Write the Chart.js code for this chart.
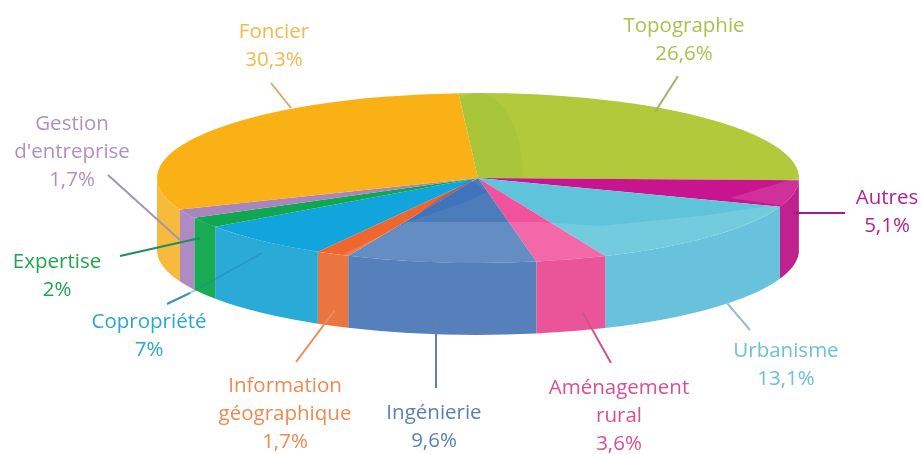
<!DOCTYPE html>
<html>
<head>
<meta charset="utf-8">
<style>
  html, body { margin: 0; padding: 0; background: #fff; }
  canvas { display: block; filter: blur(0.6px); }
</style>
<script src="https://cdn.jsdelivr.net/npm/chart.js@4"></script>
</head>
<body>
<canvas id="canvas" width="921" height="454"></canvas>
<script>
var categories = ['Topographie', 'Autres', 'Urbanisme', 'Aménagement rural', 'Ingénierie',
  'Information géographique', 'Copropriété', 'Expertise', "Gestion d'entreprise", 'Foncier'];
var values = [26.6, 5.1, 13.1, 3.6, 9.6, 1.7, 7, 2, 1.7, 30.3];

var topColors = ['#b2c93c', '#c9148f', '#5fc4da', '#f0529b', '#4d7cba', '#f0662e', '#12a4dc', '#0fa850', '#a985bf', '#f9b115'];
var wallColors = ['#a8bd38', '#c0218f', '#68c2db', '#ea5599', '#5580bb', '#eb7540', '#29aad7', '#1aac55', '#b08ac4', '#f6ba3c'];
var textColors = ['#a9c24f', '#b5218f', '#6cc0d9', '#d94e93', '#5b80b8', '#ee8a50', '#2aa5d5', '#1fa64f', '#b090c0', '#f0b94e'];

// text: name lines, centre x, y of the first line
var labelLines = [['Topographie'], ['Autres'], ['Urbanisme'], ['Aménagement', 'rural'], ['Ingénierie'],
  ['Information', 'géographique'], ['Copropriété'], ['Expertise'], ['Gestion', "d'entreprise"], ['Foncier']];
var labelX = [684, 887, 786, 619, 434, 285, 149, 57, 72, 274];
var labelY = [26, 198, 351, 388, 413, 386, 322, 262, 124, 32];

// leader lines x1, y1, x2, y2
var leaders = [[678, 76, 655, 112], [793, 213, 845, 213], [727, 303, 750, 330], [583, 313, 611, 363], [436, 320, 436, 388],
  [335, 310, 296, 362], [167, 304, 190, 293], [120, 256, 200, 238], [108, 175, 180, 240], [271, 83, 291, 108]];
var leaderColors = ['#a3b167', '#a81b80', '#9cbcc9', '#d1538a', '#6380ab', '#ec8a60', '#3f8fb8', '#1f8f5a', '#a594b5', '#d7ab6a'];

var pieX = 478, pieY = 178, pieRx = 321, pieRy = 85, pieDepth = 72;
var lineHeight = 28;

function clampAngle(a) {
  // puts the angle in -PI..PI, canvas angles with 0 on the right
  while (a > Math.PI) a -= 2 * Math.PI;
  while (a < -Math.PI) a += 2 * Math.PI;
  return a;
}

function polygon(ctx, pts) {
  ctx.beginPath();
  pts.forEach(function(p, i) {
    if (i == 0) ctx.moveTo(p[0], p[1]);
    else ctx.lineTo(p[0], p[1]);
  });
  ctx.closePath();
}

function drawSheen(ctx) {
  // reflections on the top face
  ctx.save();
  ctx.beginPath();
  ctx.ellipse(pieX, pieY, pieRx, pieRy, 0, 0, 2 * Math.PI);
  ctx.clip();
  // lighter band along the front rim
  polygon(ctx, [[344, 254], [407, 222], [540, 222], [600, 226], [700, 216], [777, 205], [777, 270], [344, 270]]);
  ctx.fillStyle = 'rgba(255,255,255,0.13)';
  ctx.fill();
  polygon(ctx, [[730, 198], [802, 176], [802, 205], [777, 205]]);
  ctx.fillStyle = 'rgba(255,255,255,0.12)';
  ctx.fill();
  // dark wedge near the middle
  polygon(ctx, [[407, 222], [463, 203], [487, 192], [470, 180], [440, 198]]);
  ctx.fillStyle = 'rgba(50,105,190,0.5)';
  ctx.fill();
  // darker lobe on the green slice, kept inside its edge with the orange one
  polygon(ctx, [[458, 90], [478, 178], [540, 178], [540, 90]]);
  ctx.clip();
  ctx.beginPath();
  ctx.ellipse(pieX, pieY, 45, 85, 0, 0, 2 * Math.PI);
  ctx.fillStyle = 'rgba(130,190,50,0.18)';
  ctx.fill();
  ctx.restore();
}

var pie3d = {
  id: 'pie3d',
  beforeDatasetsDraw: function(chart) {
    var ctx = chart.ctx;
    var arcs = chart.getDatasetMeta(0).data;
    ctx.save();
    // side wall, only the front half can be seen
    arcs.forEach(function(arc, i) {
      var a = clampAngle(arc.startAngle);
      var b = a + (arc.endAngle - arc.startAngle);
      a = Math.max(a, 0);
      b = Math.min(b, Math.PI);
      if (b <= a) return;
      ctx.beginPath();
      ctx.ellipse(pieX, pieY, pieRx, pieRy, 0, a, b);
      ctx.ellipse(pieX, pieY + pieDepth, pieRx, pieRy, 0, b, a, true);
      ctx.closePath();
      ctx.fillStyle = wallColors[i];
      ctx.fill();
    });
    // squash the flat pie into the ellipse of the top face
    var first = arcs[0];
    var r = first.outerRadius;
    ctx.translate(pieX, pieY);
    ctx.scale(pieRx / r, pieRy / r);
    ctx.translate(-first.x, -first.y);
  },
  afterDatasetsDraw: function(chart) {
    var ctx = chart.ctx;
    ctx.restore();
    drawSheen(ctx);

    // faint part of the copropriete leader, on the wall
    ctx.lineWidth = 2;
    ctx.strokeStyle = 'rgba(40,130,180,0.45)';
    ctx.beginPath();
    ctx.moveTo(190, 293);
    ctx.lineTo(262, 253);
    ctx.stroke();

    // labels and leader lines
    leaders.forEach(function(l, i) {
      ctx.strokeStyle = leaderColors[i];
      ctx.beginPath();
      ctx.moveTo(l[0], l[1]);
      ctx.lineTo(l[2], l[3]);
      ctx.stroke();
    });
    ctx.font = '20.5px "Open Sans"';
    ctx.textAlign = 'center';
    ctx.textBaseline = 'middle';
    labelLines.forEach(function(lines, i) {
      ctx.fillStyle = textColors[i];
      lines.forEach(function(t, k) {
        ctx.fillText(t, labelX[i], labelY[i] + k * lineHeight);
      });
      var pct = String(values[i]).replace('.', ',') + '%';
      ctx.fillText(pct, labelX[i], labelY[i] + lines.length * lineHeight);
    });
  }
};

var ctx = document.getElementById('canvas').getContext('2d');
var myChart = new Chart(ctx, {
  type: 'pie',
  data: {
    labels: categories,
    datasets: [{
      data: values,
      backgroundColor: topColors,
      borderWidth: 0,
      clip: false
    }]
  },
  options: {
    responsive: false,
    animation: false,
    rotation: -3.5,
    layout: { padding: 0 },
    plugins: {
      legend: { display: false },
      tooltip: { enabled: false }
    }
  },
  plugins: [pie3d]
});
</script>
</body>
</html>
